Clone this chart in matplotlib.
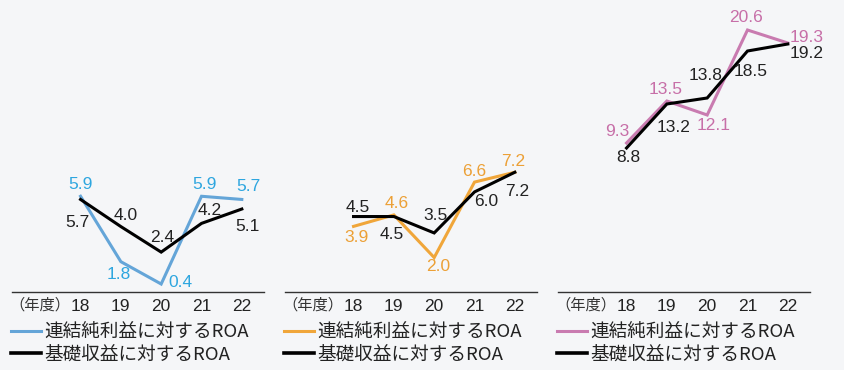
import matplotlib.pyplot as plt
from matplotlib.lines import Line2D

plt.rcParams['font.family'] = ['Liberation Sans', 'Noto Sans CJK JP', 'DejaVu Sans']

years = [18, 19, 20, 21, 22]
year_labels = ['18', '19', '20', '21', '22']

# 連結純利益に対するROA / 基礎収益に対するROA
net_1 = [5.9, 1.8, 0.4, 5.9, 5.7]
base_1 = [5.7, 4.0, 2.4, 4.2, 5.1]
net_2 = [3.9, 4.6, 2.0, 6.6, 7.2]
base_2 = [4.5, 4.5, 3.5, 6.0, 7.2]
net_3 = [9.3, 13.5, 12.1, 20.6, 19.3]
base_3 = [8.8, 13.2, 13.8, 18.5, 19.2]

net_label = '連結純利益に対するROA'
base_label = '基礎収益に対するROA'

bg = '#f5f6f8'
fig = plt.figure(figsize=(8.44, 3.7), dpi=100, facecolor=bg)

panels = [
    # left edge (px), net series, base series, line colour, text colour, ylim,
    # value label offsets (px) for net and base series
    (12, net_1, base_1, '#64a5d8', '#2ea6df', (-0.1, 18.2),
     [(0, 12), (-2, -13), (19, 2), (3, 12), (7, 13)],
     [(-3, -23), (5, 11), (1, 15), (8, 13), (6, -17)]),
    (285, net_2, base_2, '#f0a63a', '#eca036', (-0.1, 17.7),
     [(3, -11), (3, 11), (4, -9), (0, 11), (-2, 11)],
     [(4, 9), (-2, -18), (1, 17), (12, -10), (2, -19)]),
    (558, net_3, base_3, '#c97bb0', '#c76fa8', (-5.6, 23.6),
     [(-9, 12), (-1, 11), (6, -11), (-2, 12), (19, 5)],
     [(2, -10), (7, -23), (-2, 22), (3, -20), (19, -10)]),
]

for left, net, base, col, tcol, ylim, net_off, base_off in panels:
    ax = fig.add_axes([left / 844, 78 / 370, 252 / 844, 292 / 370])
    ax.set_facecolor(bg)
    ax.plot(years, base, color='black', lw=2.2, solid_joinstyle='miter', zorder=3)
    ax.plot(years, net, color=col, lw=2.2, solid_joinstyle='miter', zorder=2)
    for x, v, off in zip(years, net, net_off):
        ax.annotate(f'{v:.1f}', (x, v), xytext=off, textcoords='offset pixels',
                    ha='center', va='center', fontsize=12.5, color=tcol)
    for x, v, off in zip(years, base, base_off):
        ax.annotate(f'{v:.1f}', (x, v), xytext=off, textcoords='offset pixels',
                    ha='center', va='center', fontsize=12.5, color='#222222')
    ax.set_xlim(16.3, 22.55)
    ax.set_ylim(*ylim)
    for s in ['top', 'left', 'right']:
        ax.spines[s].set_visible(False)
    ax.spines['bottom'].set_color('#333333')
    ax.spines['bottom'].set_linewidth(1.0)
    ax.set_yticks([])
    ax.set_xticks(years)
    ax.set_xticklabels(year_labels, fontsize=12.5, color='#222222')
    ax.tick_params(axis='x', length=0, pad=5)
    ax.text(-0.01, -0.045, '（年度）', transform=ax.transAxes, fontsize=11,
            color='#333333', ha='left', va='center', family=['Noto Sans CJK JP'])
    handles = [Line2D([], [], color=col, lw=2.2), Line2D([], [], color='black', lw=2.6)]
    ax.legend(handles, [net_label, base_label], loc='upper left',
              bbox_to_anchor=(-0.005, -0.108), frameon=False, handlelength=1.6,
              handletextpad=0.2, labelspacing=0.22, borderpad=0, borderaxespad=0,
              prop={'family': 'Noto Sans CJK JP', 'size': 13.4}, labelcolor='#222222')

fig.savefig('out.png', dpi=100, facecolor=bg)
